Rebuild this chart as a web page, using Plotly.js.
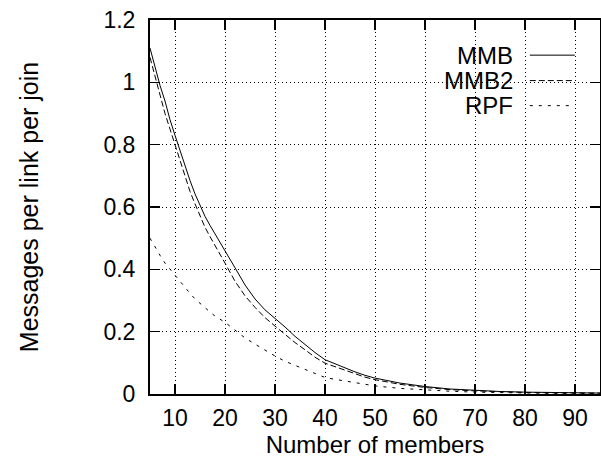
<!DOCTYPE html>
<html>
<head>
<meta charset="utf-8">
<script src="https://cdn.plot.ly/plotly-3.0.1.min.js"></script>
<style>html,body{margin:0;padding:0;background:#fff;}#chart{width:601px;height:459px;}</style>
</head>
<body>
<div id="chart"></div>
<script>
const members = [5,6,7,8,9,10,11,12,13,14,15,16,17,18,19,20,22,24,26,28,30,32,34,36,38,40,42,44,46,48,50,55,60,65,70,75,80,85,90,95];
const mmb = [1.11,1.05,0.99,0.94,0.88,0.83,0.78,0.73,0.685,0.642,0.603,0.57,0.541,0.513,0.487,0.46,0.405,0.35,0.305,0.27,0.243,0.215,0.185,0.158,0.133,0.11,0.097,0.083,0.071,0.06,0.051,0.035,0.024,0.016,0.011,0.008,0.006,0.005,0.004,0.003];
const mmb2 = [1.08,1.02,0.96,0.90,0.85,0.80,0.745,0.695,0.65,0.61,0.57,0.535,0.505,0.475,0.447,0.42,0.362,0.315,0.278,0.245,0.218,0.19,0.165,0.142,0.118,0.099,0.088,0.076,0.065,0.054,0.046,0.031,0.021,0.014,0.01,0.007,0.005,0.004,0.003,0.003];
const rpf = [0.50,0.47,0.445,0.42,0.40,0.382,0.36,0.34,0.323,0.305,0.29,0.276,0.263,0.25,0.24,0.23,0.205,0.18,0.16,0.14,0.122,0.105,0.092,0.08,0.068,0.053,0.047,0.042,0.036,0.031,0.026,0.018,0.013,0.009,0.006,0.004,0.003,0.002,0.002,0.001];
const seriesNames = ["MMB","MMB2","RPF"];
const seriesDash = ["solid","6px,3px","3px,6px"];
const xTicks = [10,20,30,40,50,60,70,80,90];
const yTicks = [0,0.2,0.4,0.6,0.8,1,1.2];

const FONT = "Liberation Sans, Arial, sans-serif";
const series = [mmb, mmb2, rpf];
const traces = series.map((ys,i)=>({
  x: members, y: ys, type:"scatter", mode:"lines", name: seriesNames[i],
  line:{color:"#000", width:1, dash: seriesDash[i]}, showlegend:false, hoverinfo:"skip"
}));

// custom gnuplot-style key: text on the left, line sample on the right
const keyY = [0.906, 0.838, 0.771];
const annotations = seriesNames.map((n,i)=>({
  xref:"paper", yref:"paper", x:0.812, y:keyY[i], xanchor:"right", yanchor:"middle",
  text:n, showarrow:false, font:{family:FONT, size:24, color:"#000"}
}));
const shapes = seriesNames.map((n,i)=>({
  type:"line", xref:"paper", yref:"paper", x0:0.844, x1:0.944, y0:keyY[i], y1:keyY[i],
  line:{color:"#000", width:1, dash: seriesDash[i]}
}));

const axisCommon = {
  showline:true, linecolor:"#000", linewidth:2, mirror:"all",
  ticks:"inside", ticklen:10, tickwidth:1.5, tickcolor:"#000",
  showgrid:true, gridcolor:"#000", gridwidth:1, griddash:"1px,3px",
  zeroline:false, tickfont:{family:FONT, size:23, color:"#000"}
};

const layout = {
  width:601, height:459,
  margin:{l:150, r:1, t:20, b:65, pad:0},
  paper_bgcolor:"#fff", plot_bgcolor:"#fff",
  font:{family:FONT, color:"#000"},
  xaxis: Object.assign({}, axisCommon, {
    range:[5,95], tickvals:xTicks, ticktext:xTicks.map(String),
    ticklabelstandoff:2,
    title:{text:"Number of members", font:{family:FONT, size:24, color:"#000"}, standoff:4}
  }),
  yaxis: Object.assign({}, axisCommon, {
    range:[0,1.2], tickvals:yTicks, ticktext:yTicks.map(String),
    ticklabelstandoff:8,
    title:{text:"Messages per link per join", font:{family:FONT, size:25, color:"#000"}, standoff:58}
  }),
  annotations: annotations,
  shapes: shapes,
  showlegend:false
};

Plotly.newPlot("chart", traces, layout, {staticPlot:true, displayModeBar:false});
</script>
</body>
</html>
